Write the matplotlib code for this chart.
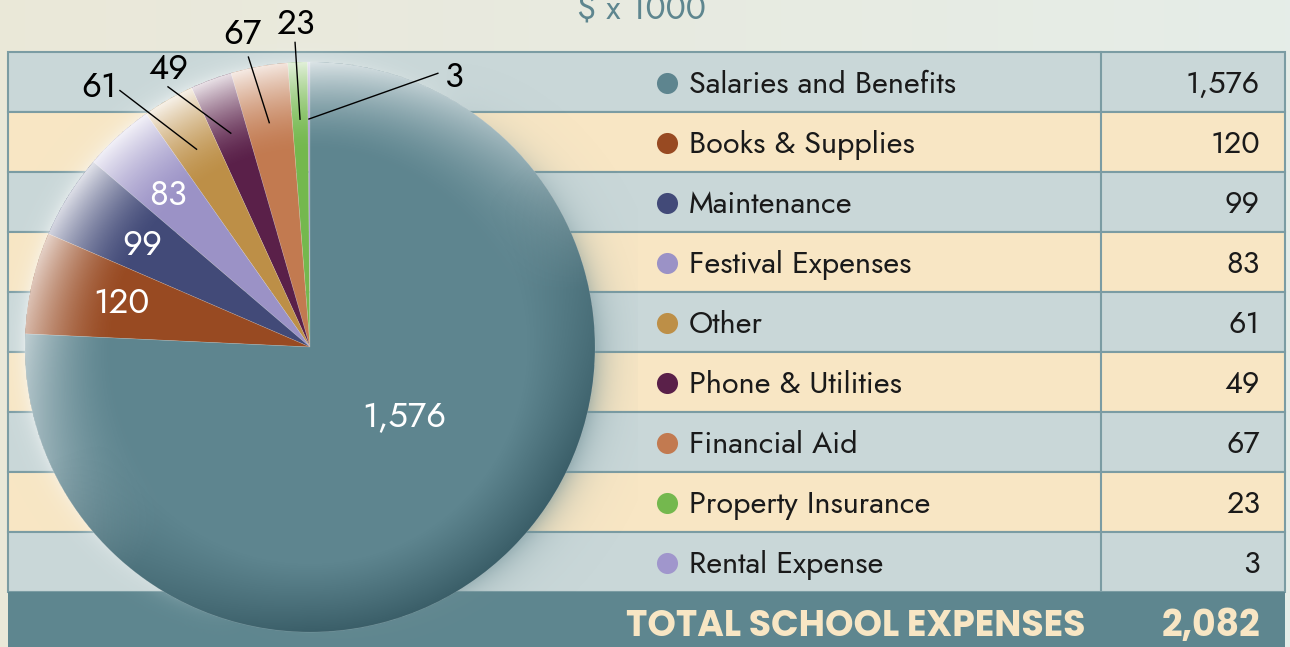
import matplotlib
import numpy as np

matplotlib.use("Agg")
import matplotlib.pyplot as plt
from matplotlib.patches import Circle, Rectangle

# table order (top to bottom)
categories = [
    "Salaries and Benefits",
    "Books & Supplies",
    "Maintenance",
    "Festival Expenses",
    "Other",
    "Phone & Utilities",
    "Financial Aid",
    "Property Insurance",
    "Rental Expense",
]
values = [1576, 120, 99, 83, 61, 49, 67, 23, 3]
value_labels = ["1,576", "120", "99", "83", "61", "49", "67", "23", "3"]
colors = ["#5e858f", "#984a22", "#424a78", "#9b92c6", "#bd8f47",
          "#5a2049", "#c27a50", "#74b84e", "#a096cc"]
total_label = "TOTAL SCHOOL EXPENSES"
total_value = "2,082"
unit_label = "$ x 1000"

W, H = 1290, 647
FONT = ["Jost", "Roboto Condensed", "DejaVu Sans"]
BOLD_FONT = ["Poppins", "DejaVu Sans"]
ROW_COLORS = ["#c9d7d8", "#f8e6c4"]
LINE = "#7b9ca3"
TOTAL_BG = "#5e868f"
CREAM = "#f8e6c4"

TABLE_X0, TABLE_X1, COL_X = 8, 1285, 1101
TABLE_TOP, ROW_H = 52, 60
PIE_CX, PIE_CY, PIE_R = 310, 347, 285

# label placement: (kind, text angle offset, text radius, line-end angle offset, line-end radius)
LABEL_STYLE = {
    "Salaries and Benefits": ("in", 9.8, 0.41),
    "Books & Supplies": ("in", -0.2, 0.68),
    "Maintenance": ("in", 0.6, 0.69),
    "Festival Expenses": ("in", 0.9, 0.73),
    "Other": ("out", 8.9, 1.18, 6.7, 1.12),
    "Phone & Utilities": ("out", 6.5, 1.10, 8.3, 1.04),
    "Financial Aid": ("out", 1.9, 1.13, 1.7, 1.04),
    "Property Insurance": ("out", 0.1, 1.14, 0.3, 1.07),
    "Rental Expense": ("out", -28.3, 1.08, -25.3, 1.06),
}


def Y(y):
    return H - y


def polar(angle, rfrac):
    a = np.radians(angle)
    return PIE_CX + rfrac * PIE_R * np.cos(a), Y(PIE_CY) + rfrac * PIE_R * np.sin(a)


fig = plt.figure(figsize=(W / 100, H / 100), dpi=100)
fig.patch.set_facecolor("#ebe8dc")
ax = fig.add_axes([0, 0, 1, 1])

# soft background tint
bg = np.linspace(0, 1, 256)[None, :]
ax.imshow(np.dstack([0.92 - 0.02 * bg, 0.91 + 0.02 * bg, 0.85 + 0.06 * bg]),
          extent=[0, W, 0, H], aspect="auto", zorder=0)

# table rows
n = len(categories)
for i in range(n):
    top = TABLE_TOP + i * ROW_H
    ax.add_patch(Rectangle((TABLE_X0, Y(top + ROW_H)), TABLE_X1 - TABLE_X0, ROW_H,
                           facecolor=ROW_COLORS[i % 2], edgecolor=LINE, lw=1.5, zorder=1))
ax.plot([COL_X, COL_X], [Y(TABLE_TOP), Y(TABLE_TOP + n * ROW_H)], color=LINE, lw=1.5, zorder=1)
total_top = TABLE_TOP + n * ROW_H
ax.add_patch(Rectangle((TABLE_X0, 0), TABLE_X1 - TABLE_X0, Y(total_top),
                       facecolor=TOTAL_BG, edgecolor="none", zorder=1))

for i, (cat, lab, col) in enumerate(zip(categories, value_labels, colors)):
    yc = Y(TABLE_TOP + i * ROW_H + ROW_H / 2)
    ax.scatter([667], [yc - 1], s=230, color=col, zorder=3, linewidths=0)
    ax.text(689, yc - 3, cat, fontsize=22, family=FONT, ha="left", va="center",
            color="#1a1a1a", zorder=3)
    ax.text(1260, yc - 3, lab, fontsize=22, family=FONT, ha="right", va="center",
            color="#1a1a1a", zorder=3)

ty = Y(total_top + (H - total_top) / 2) - 8
ax.text(1085, ty, total_label, fontsize=26, fontweight="bold", family=BOLD_FONT,
        ha="right", va="center", color=CREAM, zorder=3)
ax.text(1260, ty, total_value, fontsize=26, fontweight="bold", family=BOLD_FONT,
        ha="right", va="center", color=CREAM, zorder=3)
ax.text(641, Y(18), unit_label, fontsize=24, family=FONT, ha="center", va="baseline",
        color="#5e868f", zorder=3)

# shadow (right) and glow (left) around the pie
m = 500
ext = 1.15
g = np.linspace(-ext, ext, m)
XX, YY = np.meshgrid(g, g)
rho = np.hypot(XX, YY)
theta = np.degrees(np.arctan2(YY, XX))
outside = np.clip(rho - 1, 0, None)
sh_w = np.clip(np.cos(np.radians(theta + 25)), 0, 1)
gl_w = np.clip(-np.cos(np.radians(theta + 25)) + 0.2, 0, 1)
sh_a = 0.55 * np.exp(-outside / 0.055) * sh_w * (rho > 1)
gl_a = 0.55 * np.exp(-outside / 0.03) * gl_w * (rho > 1)
halo = np.zeros((m, m, 4))
tot = sh_a + gl_a + 1e-9
for k, (cs, cg) in enumerate(zip([0.42, 0.55, 0.58], [0.97, 0.98, 0.98])):
    halo[..., k] = (cs * sh_a + cg * gl_a) / tot
halo[..., 3] = np.clip(sh_a + gl_a, 0, 1)
box = [PIE_CX - ext * PIE_R, PIE_CX + ext * PIE_R,
       Y(PIE_CY) - ext * PIE_R, Y(PIE_CY) + ext * PIE_R]
ax.imshow(halo, extent=box, origin="lower", zorder=2, interpolation="bilinear")

# pie: drawn in reverse table order from 12 o'clock, counter-clockwise
pie_vals = values[::-1]
pie_cols = colors[::-1]
pie_cats = categories[::-1]
pie_labs = value_labels[::-1]
wedges, _ = ax.pie(pie_vals, colors=pie_cols, startangle=90, counterclock=True,
                   center=(PIE_CX, Y(PIE_CY)), radius=PIE_R,
                   wedgeprops=dict(linewidth=0.4, edgecolor=(1, 1, 1, 0.25)))
for w in wedges:
    w.set_zorder(4)

# rim shading
clip = Circle((PIE_CX, Y(PIE_CY)), PIE_R, transform=ax.transData)
d = np.cos(np.radians(theta - 122))
light = np.clip((rho - 0.68) / 0.32, 0, 1) ** 1.7 * np.clip(d + 0.35, 0, 1.35) / 1.35
dark = np.clip((rho - 0.76) / 0.24, 0, 1) ** 1.1 * np.clip(-d + 0.15, 0, 1)
shade_l = np.zeros((m, m, 4))
shade_l[..., :3] = 1.0
shade_l[..., 3] = 0.88 * light
shade_d = np.zeros((m, m, 4))
shade_d[..., :3] = [0.12, 0.25, 0.29]
shade_d[..., 3] = 0.55 * dark
for img in (shade_l, shade_d):
    im = ax.imshow(img, extent=box, origin="lower", zorder=5, interpolation="bilinear")
    im.set_clip_path(clip)

# value labels on/around pie
for w, cat, lab in zip(wedges, pie_cats, pie_labs):
    mid = (w.theta1 + w.theta2) / 2
    style = LABEL_STYLE[cat]
    x, y = polar(mid + style[1], style[2])
    if style[0] == "in":
        ax.text(x, y, lab, fontsize=25, family=FONT, color="white",
                ha="center", va="center", zorder=7)
    else:
        x0, y0 = polar(mid, 0.8)
        x1, y1 = polar(mid + style[3], style[4])
        ax.plot([x0, x1], [y0, y1], color="black", lw=1.0, zorder=7)
        ax.text(x, y - 2, lab, fontsize=25, family=FONT, color="black",
                ha="center", va="center", zorder=7)

ax.set_xlim(0, W)
ax.set_ylim(0, H)
ax.set_aspect("auto")
ax.axis("off")
fig.savefig("out.png", dpi=100)
